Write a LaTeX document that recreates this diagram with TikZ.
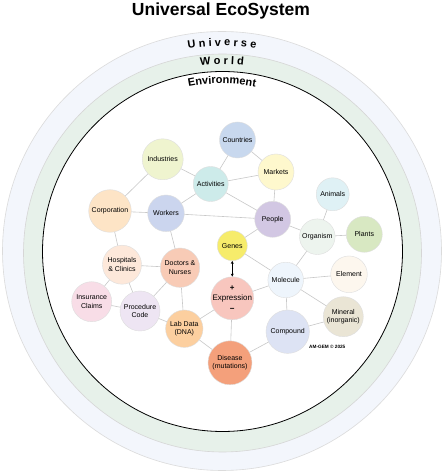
\documentclass[tikz,border=0pt]{standalone}
\usepackage{fontspec}
\setmainfont{Liberation Sans}
\usetikzlibrary{decorations.text,arrows.meta}
\definecolor{univ}{HTML}{F3F6FC}
\definecolor{world}{HTML}{E7F1EA}
\definecolor{cInd}{HTML}{EFF4CF}
\definecolor{cAct}{HTML}{CDEBEA}
\definecolor{cCou}{HTML}{C8D8EE}
\definecolor{cCor}{HTML}{FDE4C6}
\definecolor{cWor}{HTML}{CBD5EE}
\definecolor{cMar}{HTML}{FEF8CD}
\definecolor{cPeo}{HTML}{D2C7E3}
\definecolor{cAni}{HTML}{DFF1F5}
\definecolor{cOrg}{HTML}{EDF4EE}
\definecolor{cPla}{HTML}{D8E8C2}
\definecolor{cGen}{HTML}{F6EC6B}
\definecolor{cHos}{HTML}{FDE8DA}
\definecolor{cDoc}{HTML}{F8CBB6}
\definecolor{cIns}{HTML}{F8DDE7}
\definecolor{cPro}{HTML}{EEE5F3}
\definecolor{cExp}{HTML}{F8C6BE}
\definecolor{cLab}{HTML}{FCCF9F}
\definecolor{cDis}{HTML}{F4A07B}
\definecolor{cMol}{HTML}{EEF5FC}
\definecolor{cEle}{HTML}{FDF7EE}
\definecolor{cMin}{HTML}{EAE5D5}
\definecolor{cCom}{HTML}{DDE3F4}
\definecolor{linkc}{HTML}{C8C8C8}
\begin{document}
\begin{tikzpicture}[x=1pt,y=1pt,
  bub/.style={circle, draw=black!13, line width=0.4pt, inner sep=-8pt,
    minimum size=#1, align=center, font=\fontsize{7}{8.7}\selectfont},
  link/.style={draw=linkc, line width=0.6pt},
  ringtext/.style={decorate, decoration={text along path, text align=center, text={#1}}}]
\useasboundingbox (0,0) rectangle (442,472);
\fill[white] (0,0) rectangle (442,472);
% rings
\draw[draw=black!14, fill=univ, line width=0.6pt] (222,221) circle[radius=219.5];
\draw[draw=black!16, fill=world, line width=0.6pt] (222.5,219) circle[radius=199];
\draw[draw=black, fill=white, line width=0.8pt] (222.5,220.5) circle[radius=180];
% title
\node[anchor=base, font=\fontsize{17.5}{20}\selectfont\bfseries] (title) at (221,456) {Universal EcoSystem};
% ring labels
\path[ringtext={|\fontsize{11}{13}\selectfont\bfseries|U n i v e r s e}] (222,220) ++(120:206) arc[start angle=120, end angle=60, radius=206];
\path[ringtext={|\fontsize{11}{13}\selectfont\bfseries|W o r l d}] (222,220) ++(120:187.7) arc[start angle=120, end angle=60, radius=187.7];
\path[ringtext={|\fontsize{11}{13}\selectfont\bfseries|Environment}] (222,220) ++(120:168.5) arc[start angle=120, end angle=60, radius=168.5];
% nodes
\node[bub=41pt, fill=cInd] (ind) at (162.7,312.7) {Industries};
\node[bub=35pt, fill=cAct] (act) at (210.7,288) {Activities};
\node[bub=36pt, fill=cCou] (cou) at (237.5,332) {Countries};
\node[bub=42.6pt, fill=cCor] (cor) at (110,261) {Corporation};
\node[bub=36.6pt, fill=cWor] (wor) at (166,258.7) {Workers};
\node[bub=36pt, fill=cMar] (mar) at (276,300) {Markets};
\node[bub=36pt, fill=cPeo] (peo) at (272.7,252.7) {People};
\node[bub=33pt, fill=cAni] (ani) at (332.7,277.7) {Animals};
\node[bub=35.6pt, fill=cOrg] (org) at (317.3,235.3) {Organism};
\node[bub=36pt, fill=cPla] (pla) at (364.3,237.7) {Plants};
\node[bub=30pt, fill=cGen] (gen) at (232.3,226.3) {Genes};
\node[bub=39pt, fill=cHos] (hos) at (122,207.3) {Hospitals\\\& Clinics};
\node[bub=39.4pt, fill=cDoc] (doc) at (180,204.3) {Doctors \&\\Nurses};
\node[bub=40pt, fill=cIns] (ins) at (91.7,170.3) {Insurance\\Claims};
\node[bub=40pt, fill=cPro] (pro) at (140,161) {Procedure\\Code};
\node[bub=43pt, fill=cExp, font=\fontsize{8}{10.5}\selectfont] (exp) at (232.3,173.7) {\textbf{+}\\Expression\\\textbf{−}};
\node[bub=37.4pt, fill=cLab] (lab) at (184.3,143.3) {Lab Data\\(DNA)};
\node[bub=44pt, fill=cDis] (dis) at (230,109.2) {Disease\\(mutations)};
\node[bub=35.6pt, fill=cMol] (mol) at (285.7,192) {Molecule};
\node[bub=36.6pt, fill=cEle] (ele) at (349,197.7) {Element};
\node[bub=40pt, fill=cMin] (min) at (343.3,155.3) {Mineral\\(inorganic)};
\node[bub=43.4pt, fill=cCom] (com) at (287.7,140.3) {Compound};
\node[font=\fontsize{4.7}{5.5}\selectfont\bfseries] (copy) at (327.3,124.7) {AM-GEM © 2025};
% links
\draw[link] (ind) -- (act);
\draw[link] (ind) -- (cor);
\draw[link] (cou) -- (act);
\draw[link] (cou) -- (mar);
\draw[link] (act) -- (mar);
\draw[link] (act) -- (wor);
\draw[link] (act) -- (peo);
\draw[link] (cor) -- (wor);
\draw[link] (wor) -- (peo);
\draw[link] (mar) -- (peo);
\draw[link] (peo) -- (gen);
\draw[link] (peo) -- (org);
\draw[link] (ani) -- (org);
\draw[link] (org) -- (pla);
\draw[link] (org) -- (mol);
\draw[link] (gen) -- (mol);
\draw[link] (cor) -- (hos);
\draw[link] (wor) -- (doc);
\draw[link] (hos) -- (doc);
\draw[link] (hos) -- (ins);
\draw[link] (hos) -- (pro);
\draw[link] (ins) -- (pro);
\draw[link] (pro) -- (doc);
\draw[link] (pro) -- (lab);
\draw[link] (doc) -- (lab);
\draw[link] (lab) -- (exp);
\draw[link] (lab) -- (dis);
\draw[link] (exp) -- (dis);
\draw[link] (exp) -- (mol);
\draw[link] (mol) -- (ele);
\draw[link] (mol) -- (com);
\draw[link] (mol) -- (min);
\draw[link] (com) -- (min);
\draw[link] (com) -- (dis);
\draw[line width=0.6pt, {Stealth[length=3pt,width=3pt]}-{Stealth[length=3pt,width=3pt]}] (gen) -- (exp);
\end{tikzpicture}
\end{document}
